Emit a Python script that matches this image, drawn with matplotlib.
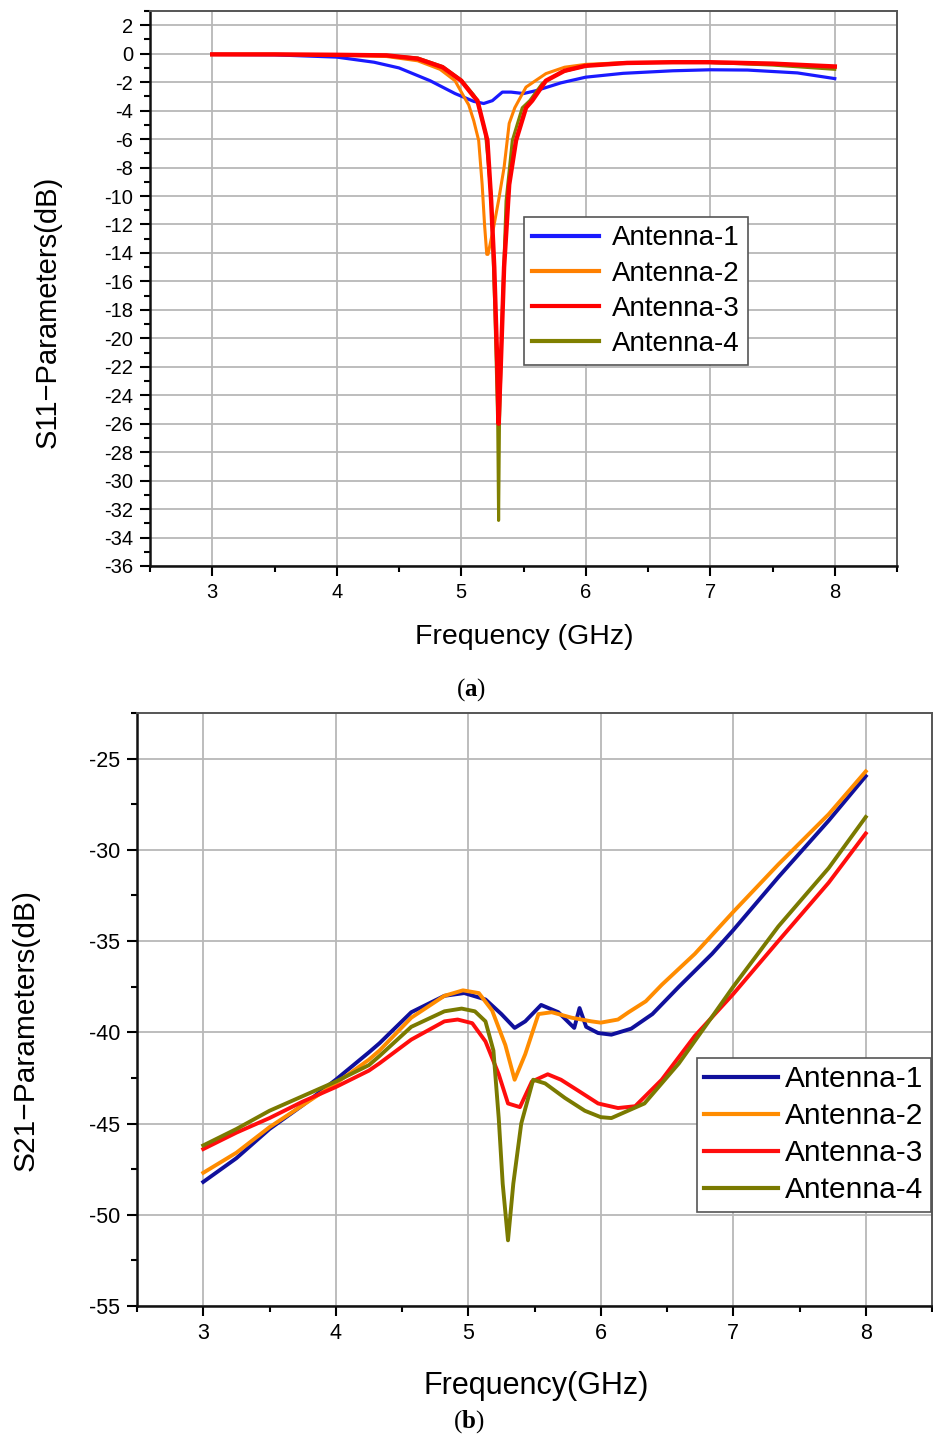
import matplotlib
matplotlib.use("Agg")
import matplotlib.pyplot as plt
from matplotlib.ticker import MultipleLocator

plt.rcParams["font.family"] = ["Liberation Sans", "DejaVu Sans"]
plt.rcParams["mathtext.fontset"] = "custom"
plt.rcParams["mathtext.rm"] = "Liberation Serif"
plt.rcParams["mathtext.bf"] = "Liberation Serif:bold"

labels = ["Antenna-1", "Antenna-2", "Antenna-3", "Antenna-4"]

# (a) S11 data
s11_f1 = [3.0, 3.5, 4.0, 4.3, 4.5, 4.75, 4.95, 5.1, 5.18, 5.25, 5.33, 5.4, 5.5, 5.6,
          5.8, 6.0, 6.3, 6.7, 7.0, 7.3, 7.7, 8.0]
s11_a1 = [-0.05, -0.08, -0.24, -0.6, -1.0, -1.9, -2.8, -3.35, -3.5, -3.3, -2.7, -2.7,
          -2.8, -2.6, -2.05, -1.65, -1.38, -1.2, -1.13, -1.15, -1.35, -1.75]

s11_f2 = [3.0, 3.5, 4.0, 4.4, 4.65, 4.83, 4.95, 5.02, 5.06, 5.1, 5.14, 5.168, 5.187,
          5.205, 5.215, 5.26, 5.30, 5.344, 5.385, 5.43, 5.52, 5.68, 5.83, 6.0, 6.33,
          6.7, 7.0, 7.5, 8.0]
s11_a2 = [-0.05, -0.05, -0.1, -0.2, -0.5, -1.1, -1.9, -3.0, -3.6, -4.7, -6.1, -9.2,
          -12.0, -14.1, -14.1, -12.2, -10.3, -8.0, -4.9, -3.8, -2.35, -1.4, -0.95,
          -0.75, -0.62, -0.6, -0.62, -0.75, -1.0]

s11_f3 = [3.0, 3.5, 4.0, 4.4, 4.65, 4.85, 5.0, 5.1, 5.13, 5.21, 5.24, 5.265, 5.29, 5.3,
          5.317, 5.344, 5.385, 5.44, 5.52, 5.57, 5.68, 5.83, 6.0, 6.33, 6.7, 7.0, 7.5, 8.0]
s11_a3 = [-0.05, -0.05, -0.08, -0.12, -0.35, -0.95, -1.9, -3.0, -3.3, -6.1, -10.3, -15.0,
          -22.0, -26.0, -22.0, -15.0, -9.2, -6.1, -3.8, -3.3, -1.9, -1.2, -0.85, -0.65,
          -0.6, -0.6, -0.7, -0.9]

s11_f4 = [3.0, 3.5, 4.0, 4.4, 4.65, 4.85, 5.0, 5.1, 5.13, 5.195, 5.24, 5.27, 5.293, 5.3,
          5.307, 5.33, 5.36, 5.41, 5.49, 5.55, 5.65, 5.8, 6.0, 6.33, 6.7, 7.0, 7.5, 8.0]
s11_a4 = [-0.05, -0.05, -0.08, -0.12, -0.3, -0.9, -1.85, -2.9, -3.3, -5.6, -10.0, -18.0,
          -26.0, -32.8, -26.0, -18.0, -10.35, -6.1, -3.8, -3.3, -2.1, -1.3, -0.85, -0.65,
          -0.6, -0.62, -0.8, -1.1]

# (b) S21 data
s21_f1 = [3.0, 3.25, 3.5, 3.75, 4.0, 4.25, 4.33, 4.57, 4.82, 4.97, 5.13, 5.25, 5.35,
          5.43, 5.55, 5.68, 5.8, 5.84, 5.89, 5.98, 6.08, 6.23, 6.39, 6.59, 6.84, 7.0,
          7.34, 7.72, 8.0]
s21_a1 = [-48.2, -46.9, -45.3, -44.0, -42.6, -41.1, -40.6, -38.9, -38.0, -37.85, -38.2,
          -39.0, -39.76, -39.4, -38.5, -38.9, -39.76, -38.67, -39.7, -40.04, -40.13,
          -39.8, -39.0, -37.5, -35.7, -34.4, -31.5, -28.4, -25.96]

s21_f2 = [3.0, 3.25, 3.5, 3.75, 4.0, 4.25, 4.33, 4.57, 4.82, 4.96, 5.08, 5.18, 5.28,
          5.35, 5.43, 5.53, 5.63, 5.78, 5.93, 6.0, 6.13, 6.21, 6.34, 6.46, 6.71, 7.0,
          7.34, 7.72, 8.0]
s21_a2 = [-47.7, -46.6, -45.2, -44.0, -42.8, -41.5, -41.0, -39.2, -38.0, -37.7, -37.85,
          -38.8, -40.7, -42.6, -41.2, -39.0, -38.9, -39.2, -39.4, -39.47, -39.3, -38.9,
          -38.3, -37.4, -35.7, -33.4, -30.8, -28.05, -25.7]

s21_f3 = [3.0, 3.25, 3.5, 3.75, 4.0, 4.25, 4.33, 4.57, 4.82, 4.92, 5.03, 5.13, 5.23,
          5.30, 5.39, 5.48, 5.6, 5.7, 5.83, 5.98, 6.13, 6.26, 6.46, 6.71, 7.0, 7.34,
          7.72, 8.0]
s21_a3 = [-46.4, -45.5, -44.7, -43.8, -43.0, -42.1, -41.7, -40.4, -39.4, -39.3, -39.5,
          -40.5, -42.3, -43.9, -44.1, -42.7, -42.3, -42.6, -43.2, -43.9, -44.15, -44.05,
          -42.6, -40.2, -37.9, -35.0, -31.8, -29.1]

s21_f4 = [3.0, 3.25, 3.5, 3.75, 4.0, 4.25, 4.33, 4.57, 4.82, 4.95, 5.05, 5.13, 5.19,
          5.23, 5.26, 5.30, 5.34, 5.40, 5.49, 5.58, 5.73, 5.88, 6.0, 6.08, 6.33, 6.59,
          6.84, 7.0, 7.34, 7.72, 8.0]
s21_a4 = [-46.2, -45.3, -44.3, -43.5, -42.7, -41.8, -41.3, -39.7, -38.85, -38.7, -38.85,
          -39.4, -41.0, -44.7, -48.3, -51.4, -48.3, -45.0, -42.6, -42.8, -43.6, -44.3,
          -44.65, -44.7, -43.9, -41.7, -39.15, -37.5, -34.2, -31.0, -28.2]

W, H = 933, 1437
fig = plt.figure(figsize=(W / 100, H / 100), dpi=100)


def px_axes(l, t, r, b):
    return fig.add_axes([l / W, 1 - b / H, (r - l) / W, (b - t) / H])


def style(ax, tick_size):
    ax.grid(True, which="major", color="#b8b8b8", lw=1.3)
    ax.set_axisbelow(True)
    ax.tick_params(which="major", direction="out", length=7, width=1.5,
                   labelsize=tick_size, pad=5)
    ax.tick_params(which="minor", direction="out", length=4, width=1.5)
    for s in ["left", "bottom"]:
        ax.spines[s].set_linewidth(1.8)
        ax.spines[s].set_color("#111111")
    for s in ["top", "right"]:
        ax.spines[s].set_linewidth(1.4)
        ax.spines[s].set_color("#555555")


# Top panel
ax1 = px_axes(150, 11, 897, 566)
ax1.plot(s11_f1, s11_a1, color="#1a1aff", lw=2.3, label=labels[0], zorder=3)
ax1.plot(s11_f2, s11_a2, color="#ff8000", lw=2.2, label=labels[1], zorder=3)
ax1.plot(s11_f3, s11_a3, color="#ff0000", lw=3.2, label=labels[2], zorder=5)
ax1.plot(s11_f4, s11_a4, color="#808000", lw=2.2, label=labels[3], zorder=4)
ax1.set_xlim(2.5, 8.5)
ax1.set_ylim(-36, 3)
ax1.xaxis.set_major_locator(MultipleLocator(1))
ax1.xaxis.set_minor_locator(MultipleLocator(0.5))
ax1.yaxis.set_major_locator(MultipleLocator(2))
ax1.yaxis.set_minor_locator(MultipleLocator(1))
ax1.set_yticks(range(-36, 3, 2))
ax1.set_yticklabels([str(v) for v in range(-36, 3, 2)])
style(ax1, 14.5)
ax1.set_xlabel("Frequency (GHz)", fontsize=20.5, va="center")
ax1.xaxis.set_label_coords(524 / W, 1 - 637 / H, transform=fig.transFigure)
ax1.set_ylabel("S11\u2212Parameters(dB)", fontsize=21, va="center")
ax1.yaxis.set_label_coords(48 / W, 1 - 312 / H, transform=fig.transFigure)
leg1 = ax1.legend(loc="upper left", bbox_to_anchor=(524 / W, 1 - 217 / H),
                  bbox_transform=fig.transFigure, fontsize=20, frameon=True,
                  fancybox=False, framealpha=1, edgecolor="#555555",
                  borderaxespad=0, borderpad=0.3, labelspacing=0.33,
                  handlelength=2.4, handletextpad=0.45)
leg1.get_frame().set_linewidth(1.2)
for ln in leg1.get_lines():
    ln.set_linewidth(3)

# Bottom panel
ax2 = px_axes(137, 713, 932, 1306)
ax2.plot(s21_f1, s21_a1, color="#10109c", lw=2.8, label=labels[0])
ax2.plot(s21_f2, s21_a2, color="#ff8c00", lw=2.8, label=labels[1])
ax2.plot(s21_f3, s21_a3, color="#ff0d0d", lw=2.8, label=labels[2])
ax2.plot(s21_f4, s21_a4, color="#7a7a00", lw=2.8, label=labels[3])
ax2.set_xlim(2.5, 8.5)
ax2.set_ylim(-55, -22.5)
ax2.xaxis.set_major_locator(MultipleLocator(1))
ax2.xaxis.set_minor_locator(MultipleLocator(0.5))
ax2.yaxis.set_major_locator(MultipleLocator(5))
ax2.yaxis.set_minor_locator(MultipleLocator(2.5))
ax2.set_yticks(range(-55, -24, 5))
ax2.set_yticklabels([str(v) for v in range(-55, -24, 5)])
style(ax2, 15.5)
ax2.set_xlabel("Frequency(GHz)", fontsize=22, va="center")
ax2.xaxis.set_label_coords(536 / W, 1 - 1386 / H, transform=fig.transFigure)
ax2.set_ylabel("S21\u2212Parameters(dB)", fontsize=21.5, va="center")
ax2.yaxis.set_label_coords(26 / W, 1 - 1030 / H, transform=fig.transFigure)
leg2 = ax2.legend(loc="upper left", bbox_to_anchor=(697 / W, 1 - 1058 / H),
                  bbox_transform=fig.transFigure, fontsize=21.5, frameon=True,
                  fancybox=False, framealpha=1, edgecolor="#555555",
                  borderaxespad=0, borderpad=0.25, labelspacing=0.3,
                  handlelength=2.45, handletextpad=0.25)
leg2.get_frame().set_linewidth(1.2)
for ln in leg2.get_lines():
    ln.set_linewidth(3)

# captions
fig.text(471 / W, 1 - 690 / H, r"$\mathrm{(}\mathbf{a}\mathrm{)}$", fontsize=18,
         ha="center", va="center")
fig.text(469 / W, 1 - 1422 / H, r"$\mathrm{(}\mathbf{b}\mathrm{)}$", fontsize=18,
         ha="center", va="center")

fig.savefig("out.png", dpi=100)
